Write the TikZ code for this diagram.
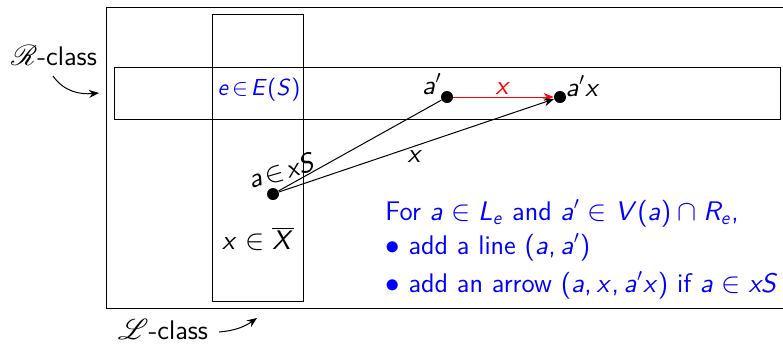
\documentclass[tikz,border=0pt]{standalone}
\usepackage{mathrsfs}
\usetikzlibrary{arrows.meta}
\DeclareFontFamily{OT1}{mysf}{}
\DeclareFontShape{OT1}{mysf}{m}{n}{<-> cmss10}{}
\DeclareFontShape{OT1}{mysf}{m}{sl}{<-> cmssi10}{}
\DeclareSymbolFont{sfit}{OT1}{mysf}{m}{sl}
\DeclareSymbolFont{sfup}{OT1}{mysf}{m}{n}
\DeclareMathSymbol{a}{\mathalpha}{sfit}{`a}
\DeclareMathSymbol{e}{\mathalpha}{sfit}{`e}
\DeclareMathSymbol{x}{\mathalpha}{sfit}{`x}
\DeclareMathSymbol{E}{\mathalpha}{sfit}{`E}
\DeclareMathSymbol{L}{\mathalpha}{sfit}{`L}
\DeclareMathSymbol{R}{\mathalpha}{sfit}{`R}
\DeclareMathSymbol{S}{\mathalpha}{sfit}{`S}
\DeclareMathSymbol{V}{\mathalpha}{sfit}{`V}
\DeclareMathSymbol{X}{\mathalpha}{sfit}{`X}
\DeclareMathSymbol{(}{\mathopen}{sfup}{`(}
\DeclareMathSymbol{)}{\mathclose}{sfup}{`)}
\DeclareMathSymbol{,}{\mathpunct}{sfup}{`,}
\begin{document}
\begin{tikzpicture}[x=0.5pt,y=-0.5pt,
  every node/.style={font=\sffamily\fontsize{13.45}{16}\selectfont, inner sep=1pt},
  small/.style={font=\sffamily\fontsize{11.6}{14}\selectfont},
  box/.style={draw, line width=0.5pt},
  dot/.style={circle, fill=black, minimum size=6pt, inner sep=0pt},
  arr/.style={-{Stealth[length=5pt,width=4pt]}, line width=0.5pt},
  bl/.style={text=blue, anchor=base west}]
\useasboundingbox (0,0) rectangle (783,344);
\draw[box] (790,7) -- (106,7) -- (106,308) -- (790,308);
\draw[box] (114,67) rectangle (780,119);
\draw[box] (212,14) rectangle (303,301);
\node[dot] (ap) at (447,97) {};
\node[dot] (apx) at (560,97) {};
\node[dot] (a) at (273,194) {};
\node (lap) at (432,84) {$a'$};
\node (lapx) at (583,86) {$a'x$};
\node[text=red] (lx) at (503,89) {$x$};
\node[small, text=blue] (e) at (259,90) {$e\!\in\!E(S)$};
\node[rotate=16] (la) at (282,171) {$a\!\in\!xS$};
\node (lxx) at (258,239) {$x\in\overline{X}$};
\draw[arr, red] (ap) -- (apx);
\draw[line width=0.5pt] (a) -- (ap);
\draw[arr] (a) -- (apx);
\node (lx2) at (415,157) {$x$};
\node[bl] (t1) at (383,220) {For $a\in L_e$ and $a'\in V(a)\cap R_e$,};
\node[bl] (t2) at (383,254) {$\bullet$ add a line $(a,a')$};
\node[bl] (t3) at (383,292) {$\bullet$ add an arrow $(a,x,a'x)$ if $a\in xS$};
\node (rc) at (54,56) {$\mathscr{R}$-class};
\node (lc) at (163,330) {$\mathscr{L}$-class};
\coordinate (rs) at (53,76);
\coordinate (re) at (99,93);
\coordinate (ls) at (219,332);
\coordinate (le) at (257,318);
\draw[arr] (rs) to[out=-55, in=185] (re);
\draw[arr] (ls) to[out=5, in=215] (le);
\end{tikzpicture}
\end{document}
